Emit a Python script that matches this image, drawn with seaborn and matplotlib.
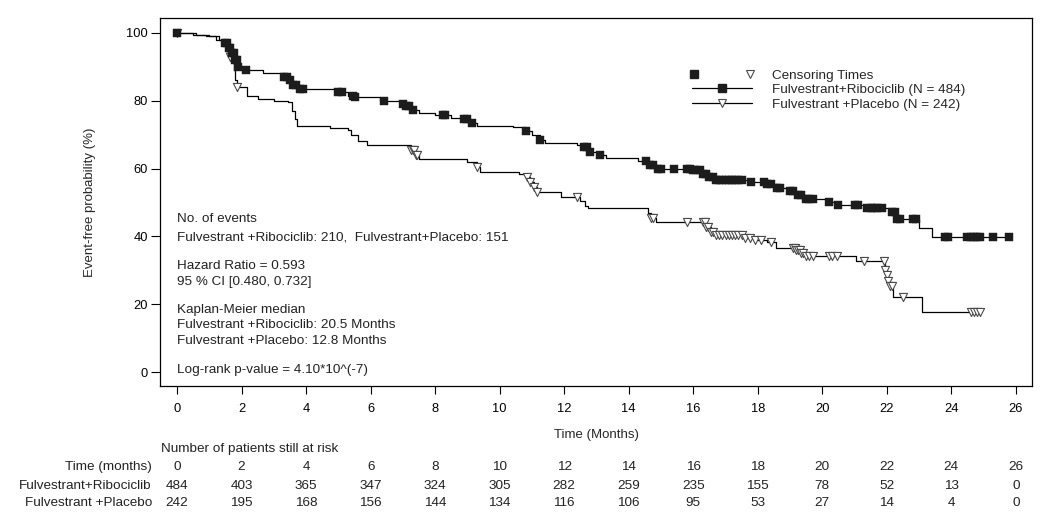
import numpy as np
import pandas as pd
import matplotlib
matplotlib.use("Agg")
import matplotlib.pyplot as plt
import matplotlib.transforms as mtransforms
from matplotlib.lines import Line2D
from matplotlib.legend_handler import HandlerTuple
import seaborn as sns

# ---------------- data ----------------
ribo_step_t = [0, 0.6, 1.0, 1.3, 1.5, 1.6, 1.7, 1.8, 1.9, 2.0, 2.67, 3.3, 3.45, 3.6, 3.75,
               4.9, 5.0, 5.3, 5.5, 6.3, 6.9, 7.1, 7.3, 7.5, 8.0, 8.5, 8.9, 9.1, 9.3, 10.4,
               10.8, 11.0, 11.25, 11.4, 12.4, 12.6, 12.75, 13.1, 13.3, 14.3, 14.6, 14.9,
               16.0, 16.3, 16.5, 16.7, 17.8, 18.3, 18.6, 19.0, 19.2, 19.5, 20.1, 20.4,
               21.3, 22.1, 22.3, 23.0, 23.4]
ribo_step_s = [100, 99.5, 99, 98, 97, 95.5, 94, 92, 90, 89, 88.3, 87, 86, 84.5, 83.5,
               83, 82.5, 81.5, 81, 80, 79, 78.5, 77.3, 76.5, 75.8, 75, 74.5, 73.5, 72.7, 72.2,
               71, 70, 68.5, 67.5, 67, 66.5, 65, 64, 63, 62.3, 61, 60,
               59.5, 58.5, 57.5, 56.6, 56, 55.5, 54.3, 53.5, 52.2, 51, 50.2, 49.3,
               48.4, 47.2, 45, 42.5, 39.8]
ribo_cens_t = [0.0, 1.5, 1.55, 1.6, 1.65, 1.7, 1.75, 1.8, 1.85, 1.9, 2.15, 3.3, 3.4, 3.5,
               3.6, 3.7, 3.8, 3.9, 5.0, 5.1, 5.45, 5.5, 6.4, 7.0, 7.1, 7.2, 7.3, 8.25, 8.3,
               8.9, 9.0, 9.15, 10.8, 11.25, 12.6, 12.7, 12.8, 13.1, 14.55, 14.65, 14.75,
               14.9, 15.0, 15.4, 15.8, 15.9, 16.0, 16.1, 16.2, 16.3, 16.4, 16.5, 16.6, 16.7,
               16.8, 16.9, 17.0, 17.1, 17.2, 17.3, 17.4, 17.5, 17.8, 18.2, 18.3, 18.4, 18.6,
               18.7, 19.0, 19.1, 19.25, 19.35, 19.5, 19.6, 19.7, 20.2, 20.5, 21.0, 21.1,
               21.4, 21.5, 21.6, 21.7, 21.85, 22.15, 22.25, 22.3, 22.4, 22.8, 22.9, 23.8,
               23.9, 24.5, 24.6, 24.7, 24.8, 24.9, 25.3, 25.8]

plac_step_t = [0, 0.5, 0.9, 1.2, 1.4, 1.55, 1.65, 1.75, 1.8, 1.85, 2.17, 2.5, 3.0, 3.45,
               3.55, 3.65, 3.72, 4.74, 5.3, 5.4, 5.6, 5.9, 7.25, 7.4, 7.5, 9.0, 9.3, 9.4,
               10.6, 10.85, 10.95, 11.05, 11.15, 11.9, 12.5, 12.65, 12.75, 14.6, 14.7, 14.85,
               16.4, 16.55, 16.7, 17.55, 17.9, 18.3, 18.55, 19.2, 19.35, 19.5, 21.05, 21.95,
               22.0, 22.05, 22.1, 22.2, 23.1]
plac_step_s = [100, 99.5, 99, 98, 97, 95, 93, 89, 86, 84, 81.4, 80.5, 80, 79.6,
               77, 74.5, 72.6, 72, 71.4, 70, 68, 67, 65.5, 64, 62.8, 62, 60.5, 59,
               58.5, 57.5, 56, 54.5, 53, 51.6, 50.5, 49, 48.4, 47, 45.5, 44.2,
               42.8, 41.3, 40.4, 39.5, 38.9, 38.3, 36.6, 36, 35, 34.2, 32.8, 30,
               28.5, 27, 25.5, 22.1, 17.7]
plac_cens_t = [0.0, 1.65, 1.85, 7.25, 7.3, 7.35, 7.4, 7.45, 9.3, 10.85, 10.95, 11.05,
               11.15, 12.4, 14.7, 14.75, 15.8, 16.3, 16.35, 16.4, 16.45, 16.55, 16.6, 16.7,
               16.8, 16.9, 17.0, 17.1, 17.2, 17.3, 17.4, 17.5, 17.6, 17.75, 17.9, 18.1,
               18.4, 19.1, 19.15, 19.2, 19.25, 19.3, 19.35, 19.4, 19.5, 19.6, 19.7, 20.2,
               20.3, 20.45, 21.3, 21.9, 21.95, 22.0, 22.05, 22.1, 22.15, 22.5, 24.6, 24.7,
               24.8, 24.9]

risk_times = [0, 2, 4, 6, 8, 10, 12, 14, 16, 18, 20, 22, 24, 26]
risk_ribo = [484, 403, 365, 347, 324, 305, 282, 259, 235, 155, 78, 52, 13, 0]
risk_plac = [242, 195, 168, 156, 144, 134, 116, 106, 95, 53, 27, 14, 4, 0]
y_ticks = [0, 20, 40, 60, 80, 100]

arm_ribo = "Fulvestrant+Ribociclib"
arm_plac = "Fulvestrant+Placebo"

# ---------------- helpers ----------------
def surv_at(step_t, step_s, times):
    idx = np.searchsorted(np.asarray(step_t), np.asarray(times), side="right") - 1
    return np.asarray(step_s)[idx]

def curve_frame(step_t, step_s, cens_t):
    t = list(step_t) + [max(cens_t)]
    s = list(step_s) + [step_s[-1]]
    return pd.DataFrame({"t": t, "s": s})

ribo_curve = curve_frame(ribo_step_t, ribo_step_s, ribo_cens_t)
plac_curve = curve_frame(plac_step_t, plac_step_s, plac_cens_t)
ribo_cens = pd.DataFrame({"t": ribo_cens_t, "s": surv_at(ribo_step_t, ribo_step_s, ribo_cens_t)})
plac_cens = pd.DataFrame({"t": plac_cens_t, "s": surv_at(plac_step_t, plac_step_s, plac_cens_t)})

# ---------------- figure ----------------
sns.set_style("ticks")
plt.rcParams["font.family"] = ["Liberation Sans", "DejaVu Sans"]
plt.rcParams["axes.edgecolor"] = "black"
plt.rcParams["axes.linewidth"] = 0.9

W, H = 1047, 529
fig = plt.figure(figsize=(W / 100, H / 100), dpi=100)
ax = fig.add_axes([160 / W, 1 - 386 / H, (1032 - 160) / W, (386 - 18) / H])

SQ_COL = "#1c1c1c"
TRI_EDGE = "#4a4a4a"

sns.lineplot(data=plac_curve, x="t", y="s", ax=ax, estimator=None, sort=False,
             drawstyle="steps-post", color="black", lw=0.9)
sns.lineplot(data=ribo_curve, x="t", y="s", ax=ax, estimator=None, sort=False,
             drawstyle="steps-post", color="black", lw=0.9)
sns.scatterplot(data=plac_cens, x="t", y="s", ax=ax, marker="v", s=34,
                color="white", edgecolor=TRI_EDGE, linewidth=0.8, zorder=3)
sns.scatterplot(data=ribo_cens, x="t", y="s", ax=ax, marker="s", s=26,
                color=SQ_COL, edgecolor=SQ_COL, linewidth=0.3, zorder=4)

ax.set_xlim(-0.53, 26.5)
ax.set_ylim(-4.1, 104.4)
ax.set_xticks(risk_times)
ax.set_yticks(y_ticks)
ax.tick_params(axis="y", direction="out", length=6.5, width=0.8, pad=2,
               labelsize=9.3, colors="black")
ax.tick_params(axis="x", direction="out", length=5.5, width=0.8, pad=7,
               labelsize=9.3, colors="black")
ax.set_xlabel("Time (Months)", fontsize=9.5, labelpad=10)
ax.set_ylabel("Event-free probability (%)", fontsize=9.5, labelpad=22)
for sp in ax.spines.values():
    sp.set_visible(True)
    sp.set_color("black")
    sp.set_linewidth(0.9)

# ---------------- legend ----------------
h_cens = (Line2D([], [], marker="s", ls="none", color=SQ_COL, ms=5.2),
          Line2D([], [], marker="v", ls="none", mfc="white", mec=TRI_EDGE, mew=0.8, ms=6.2))
h_ribo = Line2D([], [], color="black", lw=0.9, marker="s", ms=5.2, mfc=SQ_COL, mec=SQ_COL)
h_plac = Line2D([], [], color="black", lw=0.9, marker="v", ms=6.2, mfc="white",
                mec=TRI_EDGE, mew=0.8)
leg = ax.legend([h_cens, h_ribo, h_plac],
                ["Censoring Times", arm_ribo + " (N = 484)", "Fulvestrant +Placebo (N = 242)"],
                handler_map={tuple: HandlerTuple(ndivide=None, pad=3.9)},
                loc="upper left", bbox_to_anchor=(0.610, 0.861), frameon=False,
                fontsize=9.7, handlelength=4.45, handletextpad=1.5, labelspacing=0.16,
                borderpad=0, borderaxespad=0, numpoints=1)

# ---------------- annotation block ----------------
ann = [
    (219, "No. of events"),
    (237, "Fulvestrant +Ribociclib: 210,  Fulvestrant+Placebo: 151"),
    (266, "Hazard Ratio = 0.593"),
    (282, "95 % CI [0.480, 0.732]"),
    (310, "Kaplan-Meier median"),
    (325, "Fulvestrant +Ribociclib: 20.5 Months"),
    (341, "Fulvestrant +Placebo: 12.8 Months"),
    (370, "Log-rank p-value = 4.10*10^(-7)"),
]
for ypx, txt in ann:
    fig.text(177 / W, 1 - ypx / H, txt, ha="left", va="center", fontsize=9.7,
             color="#222222")

# ---------------- risk table ----------------
fig.text(161 / W, 1 - 449 / H, "Number of patients still at risk", ha="left",
         va="center", fontsize=9.7, color="#222222")
trans = mtransforms.blended_transform_factory(ax.transData, fig.transFigure)
rows = [(467, "Time (months)", risk_times),
        (486, arm_ribo, risk_ribo),
        (503, "Fulvestrant +Placebo", risk_plac)]
for ypx, lab, vals in rows:
    fig.text(152 / W, 1 - ypx / H, lab, ha="right", va="center", fontsize=9.7,
             color="#222222")
    for tx, v in zip(risk_times, vals):
        ax.text(tx, 1 - ypx / H, str(v), transform=trans, ha="center", va="center",
                fontsize=9.7, color="#222222", clip_on=False)

fig.savefig("out.png", dpi=100, facecolor="white")
